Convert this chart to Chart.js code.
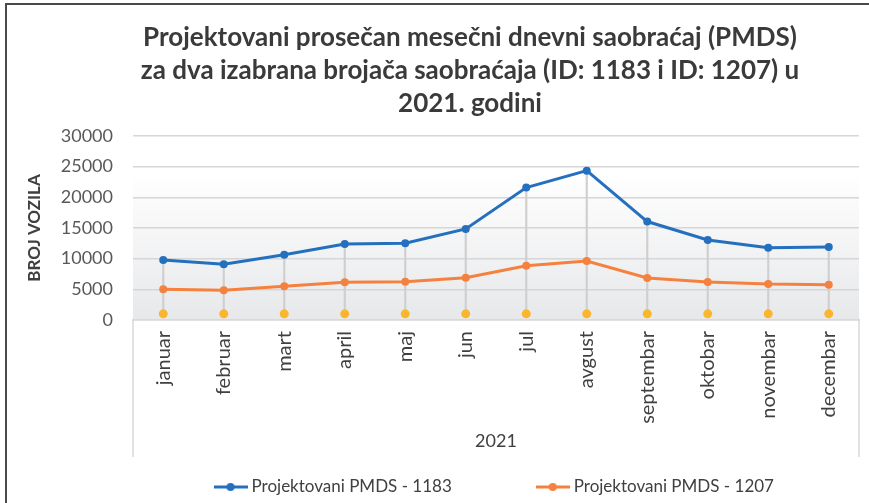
<!DOCTYPE html>
<html>
<head>
<meta charset="utf-8">
<title>PMDS 2021</title>
<script src="https://cdn.jsdelivr.net/npm/chart.js@4.4.0/dist/chart.umd.min.js"></script>
<style>
    html, body { margin: 0; padding: 0; background: #ffffff; }
    #wrap { position: relative; width: 869px; height: 503px; }
    #frame {
        position: absolute; left: 5px; top: 3px; right: 0; bottom: 0;
        border-left: 2px solid #4a4a4a; border-top: 2px solid #4a4a4a;
        pointer-events: none;
    }
</style>
</head>
<body>
<div id="wrap">
    <canvas id="pmdsChart" width="869" height="503"></canvas>
    <div id="frame"></div>
</div>
<script>
// Podaci sa grafikona
const months = ['januar', 'februar', 'mart', 'april', 'maj', 'jun', 'jul',
    'avgust', 'septembar', 'oktobar', 'novembar', 'decembar'];
const pmds1183 = [9800, 9100, 10650, 12400, 12500, 14850, 21600, 24350, 16050, 13050, 11800, 11900];
const pmds1207 = [5000, 4850, 5500, 6150, 6250, 6900, 8850, 9600, 6850, 6200, 5850, 5750];
const baseDots = [1000, 1000, 1000, 1000, 1000, 1000, 1000, 1000, 1000, 1000, 1000, 1000];
const yMin = 0;
const yMax = 30000;
const yStep = 5000;

const FONT = 'Lato, "Open Sans", sans-serif';
const blue = '#2470be';
const orange = '#f5813f';
const gold = '#fbb62e';

// Simbol za legendu: linija sa tačkom
function legendSymbol(color) {
    const c = document.createElement('canvas');
    c.width = 34;
    c.height = 10;
    const g = c.getContext('2d');
    g.strokeStyle = color;
    g.lineWidth = 3;
    g.beginPath();
    g.moveTo(0, 5);
    g.lineTo(34, 5);
    g.stroke();
    g.fillStyle = color;
    g.beginPath();
    g.arc(17, 5, 4, 0, Math.PI * 2);
    g.fill();
    return c;
}
const symbols = [legendSymbol(blue), legendSymbol(orange)];

const LEGEND_PAD = 88.5;

// Pozadina oblasti grafikona, okvir kategorija i legenda
const chartDecor = {
    id: 'chartDecor',
    beforeLayout(chart) {
        const legend = chart.legend;
        if (legend && !legend._fitPatched) {
            const fit = legend.fit;
            legend.fit = function () {
                // obe stavke u jednom redu uprkos velikom razmaku
                const mw = this.maxWidth;
                this.maxWidth = mw + 60;
                fit.call(this);
                this.maxWidth = mw;
                this.width = mw;
                this.height = 46;
            };
            legend._fitPatched = true;
        }
    },
    afterLayout(chart) {
        const area = chart.chartArea;
        const t = chart.titleBlock;
        t.left = area.left - 52;
        t.right = area.right;

        const legend = chart.legend;
        legend.left -= 20;
        legend.right += 20;
        legend.top -= LEGEND_PAD - 21.5;
    },
    beforeDraw(chart) {
        const {ctx, chartArea: a} = chart;
        const grad = ctx.createLinearGradient(0, a.top, 0, a.bottom);
        grad.addColorStop(0, '#ffffff');
        grad.addColorStop(0.2, '#ffffff');
        grad.addColorStop(1, '#e7e8ea');
        ctx.save();
        ctx.fillStyle = grad;
        ctx.fillRect(a.left, a.top, a.right - a.left, a.bottom - a.top);
        ctx.restore();
    },
    afterDraw(chart) {
        const x = chart.scales.x;
        const ctx = chart.ctx;
        ctx.save();
        ctx.strokeStyle = '#d9d9d9';
        ctx.lineWidth = 1.5;
        ctx.beginPath();
        ctx.moveTo(x.left, x.top);
        ctx.lineTo(x.left, x.bottom);
        ctx.moveTo(x.right, x.top);
        ctx.lineTo(x.right, x.bottom);
        ctx.stroke();
        ctx.restore();
    }
};

new Chart(document.getElementById('pmdsChart'), {
    type: 'line',
    data: {
        labels: months,
        datasets: [
            {
                label: 'Projektovani PMDS - 1183',
                data: pmds1183,
                borderColor: blue,
                backgroundColor: blue,
                borderWidth: 3,
                pointRadius: 4,
                pointBorderWidth: 0,
                tension: 0,
                order: 1
            },
            {
                label: 'Projektovani PMDS - 1207',
                data: pmds1207,
                borderColor: orange,
                backgroundColor: orange,
                borderWidth: 3,
                pointRadius: 4,
                pointBorderWidth: 0,
                tension: 0,
                order: 2
            },
            {
                label: 'baza',
                data: baseDots,
                showLine: false,
                borderColor: gold,
                backgroundColor: gold,
                pointRadius: 4.5,
                pointBorderWidth: 0,
                order: 3
            },
            {
                // vertikalne linije od najniže do najviše tačke
                type: 'bar',
                label: 'linije',
                data: months.map((m, i) => [baseDots[i], pmds1183[i]]),
                backgroundColor: '#cfcfcf',
                barThickness: 1.5,
                borderWidth: 0,
                order: 10
            }
        ]
    },
    options: {
        responsive: false,
        animation: false,
        layout: {
            padding: { top: 5, left: 8, right: 10, bottom: 0 }
        },
        plugins: {
            title: {
                display: true,
                text: [
                    'Projektovani prosečan mesečni dnevni saobraćaj (PMDS)',
                    'za dva izabrana brojača saobraćaja (ID: 1183 i ID: 1207) u',
                    '2021. godini'
                ],
                color: '#3a3a3a',
                font: { family: FONT, size: 26, weight: 'bold', lineHeight: '33px' },
                padding: { top: 16, bottom: 16 }
            },
            legend: {
                position: 'bottom',
                fullSize: false,
                labels: {
                    usePointStyle: true,
                    pointStyleWidth: 25,
                    padding: LEGEND_PAD,
                    color: '#404040',
                    font: { family: FONT, size: 17 },
                    generateLabels(chart) {
                        const items = Chart.defaults.plugins.legend.labels.generateLabels(chart);
                        return items
                            .filter(it => it.datasetIndex < 2)
                            .map(it => Object.assign(it, { pointStyle: symbols[it.datasetIndex] }));
                    }
                }
            },
            tooltip: { enabled: false }
        },
        scales: {
            x: {
                offset: true,
                grid: { display: false, drawTicks: false },
                border: { display: true, color: '#d9d9d9', width: 1.5 },
                ticks: {
                    minRotation: 90,
                    maxRotation: 90,
                    autoSkip: false,
                    padding: 11,
                    color: '#404040',
                    font: { family: FONT, size: 20 }
                },
                title: {
                    display: true,
                    text: '2021',
                    color: '#404040',
                    font: { family: FONT, size: 18 },
                    padding: { top: 0, bottom: 5 }
                },
                afterFit(scale) {
                    scale.height = 137;
                }
            },
            y: {
                min: yMin,
                max: yMax,
                grid: { color: '#d6d6d6', lineWidth: 1.5, drawTicks: false },
                border: { display: false },
                ticks: {
                    stepSize: yStep,
                    padding: 20,
                    color: '#595959',
                    font: { family: FONT, size: 18 },
                    callback: value => String(value)
                },
                title: {
                    display: true,
                    text: 'BROJ VOZILA',
                    color: '#404040',
                    font: { family: FONT, size: 17, weight: 'bold' },
                    padding: { top: 16, bottom: 0 }
                },
                afterFit(scale) {
                    scale.width = 125;
                }
            }
        }
    },
    plugins: [chartDecor]
});
</script>
</body>
</html>
